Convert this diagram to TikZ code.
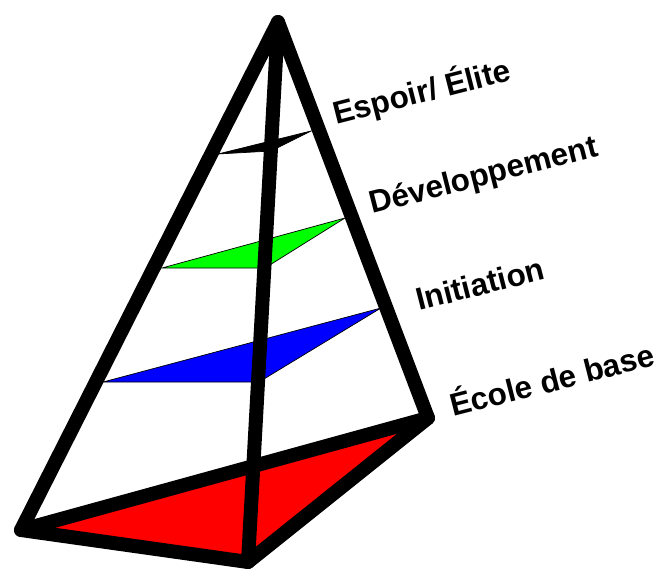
\documentclass[tikz,border=0pt]{standalone}
\usepackage{fontspec}
\setmainfont{Liberation Sans}
\begin{document}
\begin{tikzpicture}[x=1pt,y=-1pt,
  edge/.style={line width=14pt,line cap=round,line join=round,draw=black},
  slice/.style={draw=black,line width=0.7pt,line join=miter},
  lbl/.style={font=\fontsize{31.5}{31.5}\selectfont\bfseries,anchor=base west,inner sep=0pt,rotate=14.3}]
\useasboundingbox (0,0) rectangle (660,572);
% corners
\coordinate (A) at (278,22);
\coordinate (L) at (21,530);
\coordinate (F) at (248,562);
\coordinate (R) at (428,418);
% slice vertices
\coordinate (k1) at (218,154); \coordinate (k2) at (271,151); \coordinate (k3) at (311,131);
\coordinate (g1) at (162,268); \coordinate (g2) at (265,268); \coordinate (g3) at (345,218);
\coordinate (b1) at (103,382); \coordinate (b2) at (259,382); \coordinate (b3) at (381,308);
% fills
\fill[red] (L) -- (F) -- (R) -- cycle;
\filldraw[slice,fill=black] (k1) -- (k2) -- (k3) -- cycle;
\filldraw[slice,fill=green] (g1) -- (g2) -- (g3) -- cycle;
\filldraw[slice,fill=blue] (b1) -- (b2) -- (b3) -- cycle;
% edges
\draw[edge] (L) -- (A) -- (R) -- (F) -- cycle;
\draw[edge] (A) -- (F);
\draw[edge] (L) -- (R);
% labels
\node[lbl] (t1) at (336,125) {Espoir/ Élite};
\node[lbl] (t2) at (372,214) {Développement};
\node[lbl] (t3) at (419,311) {Initiation};
\node[lbl] (t4) at (453,417) {École de base};
\end{tikzpicture}
\end{document}
